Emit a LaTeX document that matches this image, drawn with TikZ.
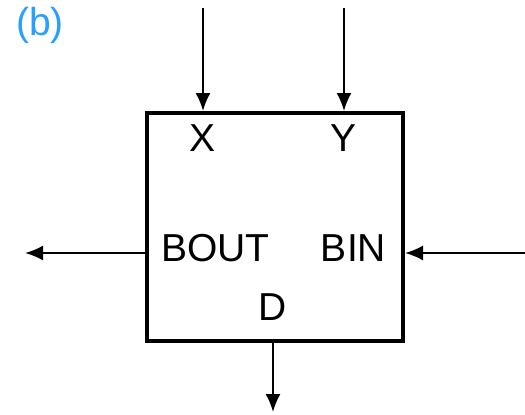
\documentclass[tikz,border=0pt]{standalone}
\usepackage{fontspec}
\setmainfont{Liberation Sans}
\usetikzlibrary{arrows.meta}
\begin{document}
\begin{tikzpicture}[x=0.5pt,y=-0.5pt,
    sig/.style={line width=1pt,-{Latex[length=9pt,width=7.5pt]}},
    lbl/.style={font=\fontsize{19.5}{22}\selectfont,inner sep=0pt}]
  \useasboundingbox (0,0) rectangle (525,414);

  % block
  \node[draw,line width=2pt,minimum width=128pt,minimum height=114pt,inner sep=0pt] (blk) at (275,227) {};

  % labels
  \node[lbl] (lx) at (203,138) {X};
  \node[lbl] (ly) at (344,138) {Y};
  \node[lbl] (lbout) at (215.5,248) {BOUT};
  \node[lbl] (lbin) at (353.5,248) {BIN};
  \node[lbl] (ld) at (273,307) {D};
  \node[lbl,text={rgb,255:red,40;green,160;blue,255}] (tag) at (40,25) {(b)};

  % free ends
  \coordinate (xin) at (203,8);
  \coordinate (yin) at (344,8);
  \coordinate (bout) at (25,253);
  \coordinate (bin) at (525,253);
  \coordinate (dout) at (273,412);

  % signals
  \draw[sig] (xin) -- (xin |- blk.north);
  \draw[sig] (yin) -- (yin |- blk.north);
  \draw[sig] (bout -| blk.west) -- (bout);
  \draw[sig] (bin) -- (bin -| blk.east);
  \draw[sig] (dout |- blk.south) -- (dout);
\end{tikzpicture}
\end{document}
